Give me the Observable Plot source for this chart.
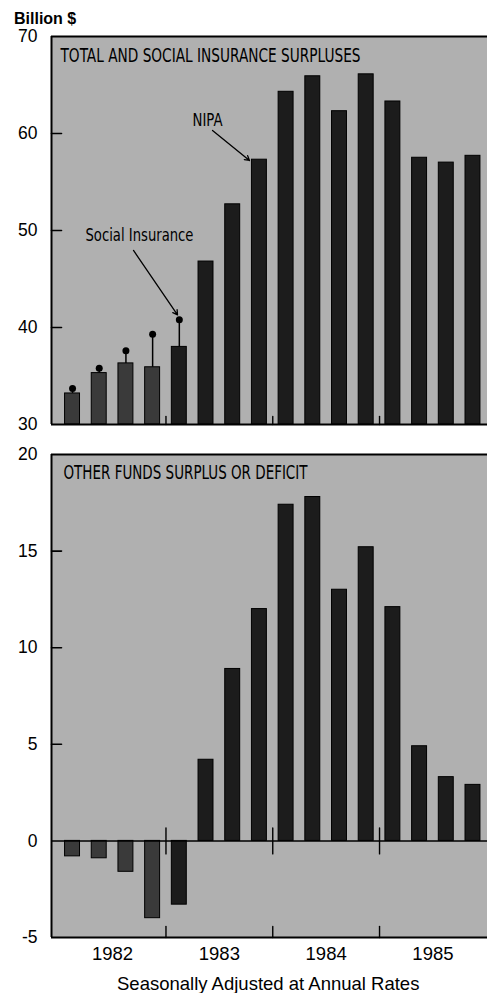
<!DOCTYPE html>
<html>
<head>
<meta charset="utf-8">
<script src="https://cdn.jsdelivr.net/npm/d3@7"></script>
<script src="https://cdn.jsdelivr.net/npm/@observablehq/plot@0.6"></script>
<style>
  body { margin: 0; background: #fff; font-family: "Liberation Sans", Arial, Helvetica, sans-serif; color: #000; }
  #wrap { position: relative; width: 487px; height: 993px; overflow: hidden; }
  #unit { position: absolute; left: 14px; top: 10px; font-weight: bold; font-size: 16px; }
  #top { position: absolute; left: 0; top: 26px; }
  #bottom { position: absolute; left: 0; top: 444px; }
  #caption { position: absolute; left: 117px; top: 973px; font-size: 18.5px; white-space: nowrap; }
</style>
</head>
<body>
<div id="wrap">
  <div id="unit">Billion $</div>
  <div id="top"></div>
  <div id="bottom"></div>
  <div id="caption">Seasonally Adjusted at Annual Rates</div>
</div>
<script>
// ---- data ----
const quarters = ["1982 Q1","1982 Q2","1982 Q3","1982 Q4",
                  "1983 Q1","1983 Q2","1983 Q3","1983 Q4",
                  "1984 Q1","1984 Q2","1984 Q3","1984 Q4",
                  "1985 Q1","1985 Q2","1985 Q3","1985 Q4"];
const nipaSurplus = [33.2, 35.3, 36.3, 35.9, 38.0, 46.8, 52.7, 57.3,
                     64.3, 65.9, 62.3, 66.1, 63.3, 57.5, 57.0, 57.7];
const socialInsurance = [33.7, 35.8, 37.6, 39.3, 40.8];
const otherFunds = [-0.8, -0.9, -1.6, -4.0, -3.3, 4.2, 8.9, 12.0,
                    17.4, 17.8, 13.0, 15.2, 12.1, 4.9, 3.3, 2.9];
const yearLabels = ["1982", "1983", "1984", "1985"];
const topTicks = [30, 40, 50, 60, 70];
const bottomTicks = [-5, 0, 5, 10, 15, 20];
const topTitle = "TOTAL AND SOCIAL INSURANCE SURPLUSES";
const bottomTitle = "OTHER FUNDS SURPLUS OR DEFICIT";

// ---- derived tables ----
const qTime = q => { const [y, n] = q.split(" Q"); return +y + (+n - 0.5) / 4; };
const topRows = quarters.map((q, i) => ({q, t: qTime(q), v: nipaSurplus[i], si: socialInsurance[i]}));
const siRows = topRows.filter(d => d.si != null);
const botRows = quarters.map((q, i) => ({q, t: qTime(q), v: otherFunds[i]}));
const yearBreaks = yearLabels.slice(1).map(Number);

const xDomain = [1981.928, 1986.011];
const half = 0.07;
const bg = "#b0b0b0";
const barFill = d => d.q.startsWith("1982") ? "#3a3a3a" : "#1c1c1c";
const line = {draw(ctx, l) { ctx.moveTo(0, 0); ctx.lineTo(0, -l); }};
const font = "Liberation Sans, Arial, Helvetica, sans-serif";
const narrow = "Liberation Sans Narrow, DejaVu Sans Condensed, Arial Narrow, sans-serif";
const fmt = d => String(d);

const topPlot = Plot.plot({
  width: 487, height: 402,
  marginLeft: 51, marginRight: 0, marginTop: 10, marginBottom: 4,
  x: {domain: xDomain, axis: null},
  y: {domain: [30, 70], axis: null},
  style: {fontFamily: font, fontSize: "17px", color: "#000", background: "transparent", overflow: "visible"},
  marks: [
    Plot.frame({fill: bg, stroke: "none"}),
    Plot.axisY(topTicks, {tickSize: 0, tickPadding: 14, fontSize: 17.5, tickFormat: fmt, label: null, stroke: "#000", strokeWidth: 0.35}),
    Plot.vector(topTicks.slice(1, -1), {x: xDomain[0], y: d => d, rotate: 90, length: 10, anchor: "start", shape: line, stroke: "#000", strokeWidth: 1.6}),
    Plot.rectY(topRows, {x1: d => d.t - half, x2: d => d.t + half, y1: 30, y2: "v", fill: barFill, stroke: "#000", strokeWidth: 1}),
    Plot.ruleX(siRows, {x: "t", y1: "v", y2: "si", stroke: "#000", strokeWidth: 1.5}),
    Plot.dot(siRows, {x: "t", y: "si", r: 3.5, fill: "#000", stroke: "none"}),
    Plot.vector(yearBreaks, {x: d => d, y: 30, rotate: 0, length: 8, anchor: "start", shape: line, stroke: "#000", strokeWidth: 1.4}),
    Plot.ruleX([xDomain[0]], {stroke: "#000", strokeWidth: 2}),
    Plot.ruleY([70, 30], {stroke: "#000", strokeWidth: 2}),
    Plot.text([topTitle], {frameAnchor: "top-left", dx: 9, dy: 19, lineAnchor: "middle", textAnchor: "start", fontFamily: narrow, fontSize: 19, fill: "#000"}),
    Plot.text(["NIPA"], {x: 1983.389, y: 61.34, fontFamily: narrow, fontSize: 17, fill: "#000"}),
    Plot.arrow([0], {x1: 1983.436, y1: 60.31, x2: 1983.782, y2: 57.22, stroke: "#000", strokeWidth: 1.3, headLength: 6}),
    Plot.text(["Social Insurance"], {x: 1982.752, y: 49.48, fontFamily: narrow, fontSize: 17, fill: "#000"}),
    Plot.arrow([0], {x1: 1982.696, y1: 47.94, x2: 1983.108, y2: 41.3, stroke: "#000", strokeWidth: 1.3, headLength: 6})
  ]
});

const bottomPlot = Plot.plot({
  width: 487, height: 523,
  marginLeft: 51, marginRight: 0, marginTop: 10, marginBottom: 30,
  x: {domain: xDomain, axis: null},
  y: {domain: [-5, 20], axis: null},
  style: {fontFamily: font, fontSize: "17px", color: "#000", background: "transparent", overflow: "visible"},
  marks: [
    Plot.frame({fill: bg, stroke: "none"}),
    Plot.axisY(bottomTicks, {tickSize: 0, tickPadding: 14, fontSize: 17.5, tickFormat: fmt, label: null, stroke: "#000", strokeWidth: 0.35}),
    Plot.vector(bottomTicks.slice(2, -1), {x: xDomain[0], y: d => d, rotate: 90, length: 10, anchor: "start", shape: line, stroke: "#000", strokeWidth: 1.6}),
    Plot.rectY(botRows, {x1: d => d.t - half, x2: d => d.t + half, y1: 0, y2: "v", fill: barFill, stroke: "#000", strokeWidth: 1}),
    Plot.ruleY([0], {stroke: "#000", strokeWidth: 1.5}),
    Plot.vector(yearBreaks, {x: d => d, y: 0, rotate: 0, length: 26, anchor: "middle", shape: line, stroke: "#000", strokeWidth: 1.4}),
    Plot.vector(yearBreaks, {x: d => d, y: -5, rotate: 0, length: 11, anchor: "start", shape: line, stroke: "#000", strokeWidth: 1.4}),
    Plot.ruleX([xDomain[0]], {stroke: "#000", strokeWidth: 2}),
    Plot.ruleY([20, -5], {stroke: "#000", strokeWidth: 2}),
    Plot.text(yearLabels, {x: d => +d + 0.5, y: -5, dy: 17, lineAnchor: "middle", fontSize: 18.5, fill: "#000"}),
    Plot.text([bottomTitle], {frameAnchor: "top-left", dx: 12, dy: 18, lineAnchor: "middle", textAnchor: "start", fontFamily: narrow, fontSize: 19, fill: "#000"})
  ]
});

document.getElementById("top").appendChild(topPlot);
document.getElementById("bottom").appendChild(bottomPlot);

// fit the condensed labels to the widths in the reference
const fit = {[topTitle]: 300, "NIPA": 30, "Social Insurance": 108, [bottomTitle]: 244};
d3.selectAll("svg text").each(function () {
  const w = fit[this.textContent];
  if (w) d3.select(this).attr("textLength", w).attr("lengthAdjust", "spacingAndGlyphs");
});
</script>
</body>
</html>
